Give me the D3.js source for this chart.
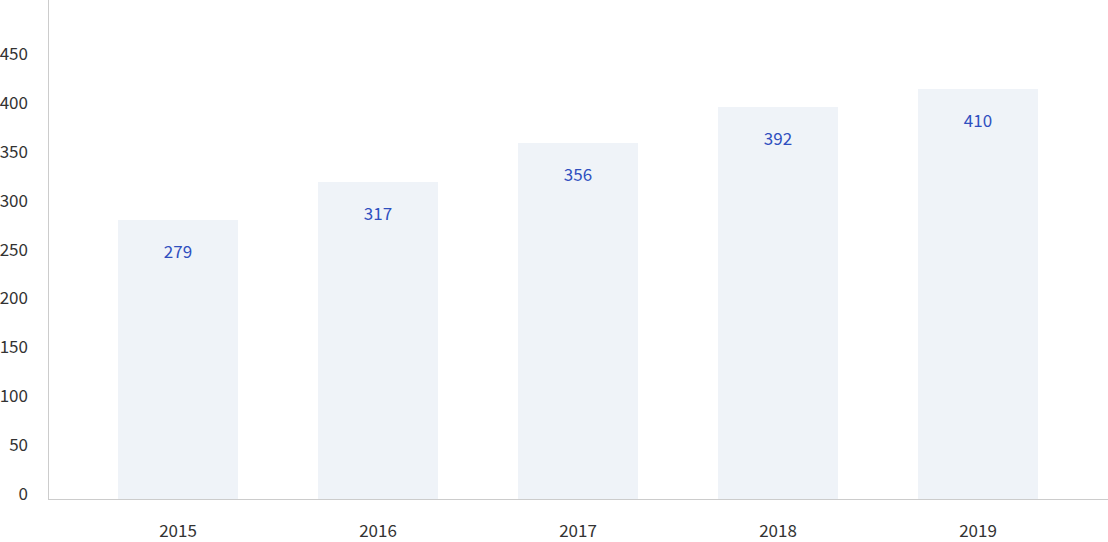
<!DOCTYPE html>
<html><head><meta charset="utf-8">
<script src="https://cdn.jsdelivr.net/npm/d3@7"></script>
<style>body{margin:0;background:#fff}svg{display:block}text{font-family:"Noto Sans CJK SC","Noto Sans",sans-serif}</style>
</head><body><svg id="c" width="1108" height="542"></svg>
<script>
const categories = ["2015","2016","2017","2018","2019"];
const values = [279, 317, 356, 392, 410];
const yTicks = [0,50,100,150,200,250,300,350,400,450];

const svg = d3.select("#c");
const x = d3.scaleBand().domain(categories).range([48,1108]).paddingInner(0.4).paddingOuter(0.35);
const y = d3.scaleLinear().domain([0,499]).range([499,0]);
const yLab = d3.scaleLinear().domain([0,450]).range([494,54]);

svg.selectAll("rect.bar").data(values).join("rect")
  .attr("class","bar")
  .attr("x",(d,i)=>x(categories[i]))
  .attr("y",d=>y(d))
  .attr("width",x.bandwidth())
  .attr("height",d=>y(0)-y(d))
  .attr("fill","#eff3f8");

svg.selectAll("text.val").data(values).join("text")
  .attr("class","val")
  .attr("x",(d,i)=>x(categories[i])+x.bandwidth()/2)
  .attr("y",d=>y(d)+32)
  .attr("dy","0.35em")
  .attr("text-anchor","middle")
  .attr("font-size",17)
  .attr("fill","#2f4fbf")
  .text(d=>d);

svg.append("line").attr("x1",48.5).attr("x2",48.5).attr("y1",0).attr("y2",y(0)).attr("stroke","#cccccc");
svg.append("line").attr("x1",48).attr("x2",1108).attr("y1",y(0)+0.5).attr("y2",y(0)+0.5).attr("stroke","#cccccc");

svg.selectAll("text.yt").data(yTicks).join("text")
  .attr("class","yt")
  .attr("x",28).attr("y",d=>yLab(d)).attr("dy","0.35em")
  .attr("text-anchor","end").attr("font-size",17).attr("fill","#333")
  .text(d=>d);

svg.selectAll("text.xt").data(categories).join("text")
  .attr("class","xt")
  .attr("x",d=>x(d)+x.bandwidth()/2).attr("y",531).attr("dy","0.35em")
  .attr("text-anchor","middle").attr("font-size",17).attr("fill","#333")
  .text(d=>d);
</script></body></html>
